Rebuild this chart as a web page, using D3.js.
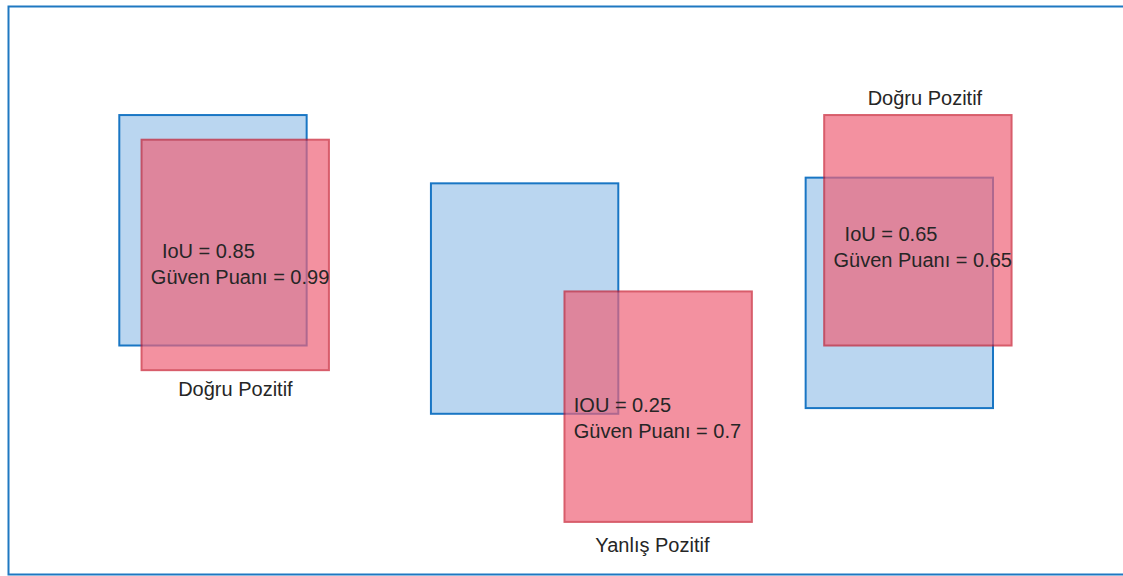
<!DOCTYPE html>
<html>
<head>
<meta charset="utf-8">
<script src="https://cdn.jsdelivr.net/npm/d3@7"></script>
<style>
  html, body { margin: 0; padding: 0; background: #fff; }
  svg text { font-family: "Liberation Sans", Arial, sans-serif; fill: #262626; white-space: pre; }
</style>
</head>
<body>
<svg id="chart" width="1123" height="576"></svg>
<script>
// ---- data (data units) ----
const categories = ["Doğru Pozitif", "Yanlış Pozitif", "Doğru Pozitif"];
const gtX = [0.60, 2.28, 4.30];
const gtY = [1.21, 0.85, 0.88];
const predX = [0.72, 3.00, 4.40];
const predY = [1.08, 0.28, 1.21];
const boxW = 1.01;
const boxH = 1.215;
const iouLabels = ["  IoU = 0.85", "IOU = 0.25", "  IoU = 0.65"];
const confidence = [0.99, 0.7, 0.65];
const textX = [0.77, 3.05, 4.45];
const textY = [1.67, 0.86, 1.76];
const labelX = [1.226, 3.474, 4.943];
const labelY = [0.945, 0.123, 2.48];

const svg = d3.select("#chart");
const x = d3.scaleLinear().domain([0, 6]).range([8, 1121]);
const y = d3.scaleLinear().domain([0, 3]).range([575, 6]);

// frame
svg.append("path")
  .attr("d", "M1123,6.5H8.5V574.5H1123")
  .attr("fill", "none")
  .attr("stroke", "#1f78c1")
  .attr("stroke-width", 2);

const idx = d3.range(categories.length);

// ground-truth boxes
svg.selectAll("rect.gt").data(idx).join("rect")
  .attr("class", "gt")
  .attr("x", i => x(gtX[i]))
  .attr("y", i => y(gtY[i] + boxH))
  .attr("width", i => x(gtX[i] + boxW) - x(gtX[i]))
  .attr("height", i => y(gtY[i]) - y(gtY[i] + boxH))
  .attr("fill", "#bad6f0")
  .attr("stroke", "#1976c4")
  .attr("stroke-width", 2);

// predicted boxes
svg.selectAll("rect.pred").data(idx).join("rect")
  .attr("class", "pred")
  .attr("x", i => x(predX[i]))
  .attr("y", i => y(predY[i] + boxH))
  .attr("width", i => x(predX[i] + boxW) - x(predX[i]))
  .attr("height", i => y(predY[i]) - y(predY[i] + boxH))
  .attr("fill", "rgb(238,99,121)")
  .attr("stroke", "rgb(200,25,45)")
  .attr("stroke-width", 2)
  .attr("opacity", 0.7);

// IoU / confidence text
const t = svg.selectAll("text.info").data(idx).join("text")
  .attr("class", "info")
  .attr("x", i => x(textX[i]))
  .attr("y", i => y(textY[i]))
  .attr("font-size", 20);
t.append("tspan").text(i => iouLabels[i]);
t.append("tspan")
  .attr("x", i => x(textX[i]))
  .attr("dy", 26)
  .text(i => "Güven Puanı = " + confidence[i]);

// category labels
svg.selectAll("text.cat").data(idx).join("text")
  .attr("class", "cat")
  .attr("x", i => x(labelX[i]))
  .attr("y", i => y(labelY[i]))
  .attr("text-anchor", "middle")
  .attr("font-size", 20)
  .text(i => categories[i]);
</script>
</body>
</html>
